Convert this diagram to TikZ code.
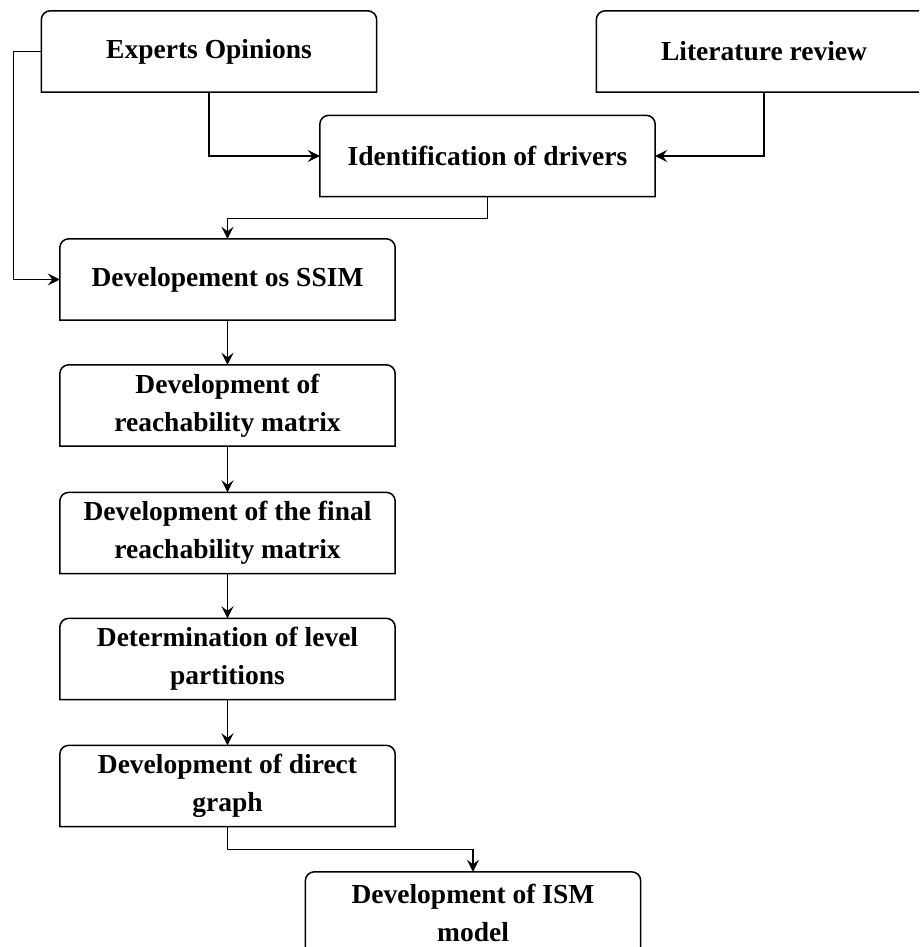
\documentclass[tikz,border=0pt]{standalone}
\usepackage{fontspec}
\setmainfont{Liberation Serif}
\usetikzlibrary{arrows.meta}
\begin{document}
\begin{tikzpicture}[x=1pt,y=-1pt,
  box/.style={minimum width=335pt,minimum height=81pt,inner sep=0pt,align=center,
    font=\fontsize{27.5}{38}\selectfont\bfseries},
  conn/.style={line width=1.5pt,-{Stealth[length=12pt,width=12pt,inset=4.5pt]}},
  outl/.style={line width=1.5pt}]
\useasboundingbox (0,0) rectangle (919,947);
\clip (0,0) rectangle (919,947);
\newcommand\topbox[1]{\draw[outl] (#1.south west) [rounded corners=9pt] -- (#1.north west) -- (#1.north east) [sharp corners] -- (#1.south east) -- cycle;}
\node[box] (exp) at (209,51.5) {Experts Opinions};
\node[box] (lit) at (764,51.5) {Literature review};
\node[box] (idf) at (487.5,156) {Identification of drivers};
\node[box] (ssim) at (227.5,279.5) {Developement os SSIM};
\node[box] (reach) at (227.5,405.5) {Development of\\reachability matrix};
\node[box] (final) at (227.5,533) {Development of the final\\reachability matrix};
\node[box] (det) at (227.5,659) {Determination of level\\partitions};
\node[box] (dir) at (227.5,786) {Development of direct\\graph};
\node[box] (ism) at (473,912.5) {Development of ISM\\model};
\foreach \n in {exp,lit,idf,ssim,reach,final,det,dir,ism} {\topbox{\n}}
\draw[conn] (exp.south) |- (idf.west);
\draw[conn] (lit.south) |- (idf.east);
\draw[conn] (idf.south) -- ++(0,22) -| (ssim.north);
\draw[conn] (exp.west) -- ++(-28,0) |- (ssim.west);
\draw[conn] (ssim) -- (reach);
\draw[conn] (reach) -- (final);
\draw[conn] (final) -- (det);
\draw[conn] (det) -- (dir);
\draw[conn] (dir.south) -- ++(0,23) -| (ism.north);
\end{tikzpicture}
\end{document}
